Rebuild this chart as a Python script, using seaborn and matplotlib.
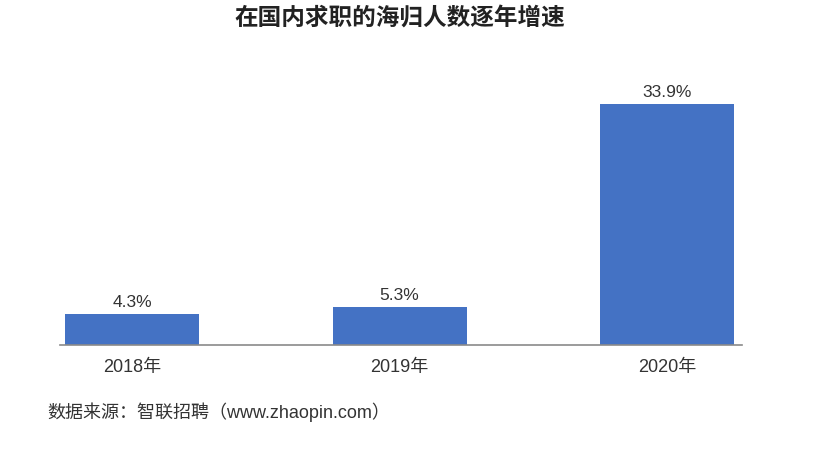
import matplotlib
matplotlib.use("Agg")
import matplotlib.pyplot as plt
import pandas as pd
import seaborn as sns

years = ["2018年", "2019年", "2020年"]
growth = [4.3, 5.3, 33.9]
value_labels = ["4.3%", "5.3%", "33.9%"]
title = "在国内求职的海归人数逐年增速"
source = "数据来源：智联招聘（www.zhaopin.com）"

sns.set_theme(style="white")
plt.rcParams["font.family"] = ["Liberation Sans", "Noto Sans CJK SC", "DejaVu Sans"]

df = pd.DataFrame({"year": years, "growth": growth})

fig = plt.figure(figsize=(8.16, 4.55), dpi=100)
ax = fig.add_axes([60 / 816, 1 - 345 / 455, (742 - 60) / 816, 284 / 455])
sns.barplot(data=df, x="year", y="growth", color="#4472C4", width=0.5,
            saturation=1, linewidth=0, ax=ax)

for i, (v, lab) in enumerate(zip(growth, value_labels)):
    ax.text(i, v + 0.6, lab, ha="center", va="bottom", fontsize=12.5, color="#333333")

ax.set_xlim(-0.27, 2.28)
ax.set_ylim(0, 40)
ax.set_xlabel("")
ax.set_ylabel("")
ax.set_yticks([])
ax.tick_params(axis="x", length=0, pad=10, labelsize=13, labelcolor="#333333")
for side in ["top", "right", "left"]:
    ax.spines[side].set_visible(False)
ax.spines["bottom"].set_color("#8a8a8a")
ax.spines["bottom"].set_linewidth(1.2)

fig.text(400 / 816, 1 - 18 / 455, title, ha="center", va="center",
         fontsize=17, fontweight="bold", color="#222222",
         family=["Noto Sans CJK SC", "DejaVu Sans"])
fig.text(47 / 816, 1 - 412 / 455, source, ha="left", va="center",
         fontsize=13, color="#333333")

fig.savefig("out.png", dpi=100, facecolor="white")
